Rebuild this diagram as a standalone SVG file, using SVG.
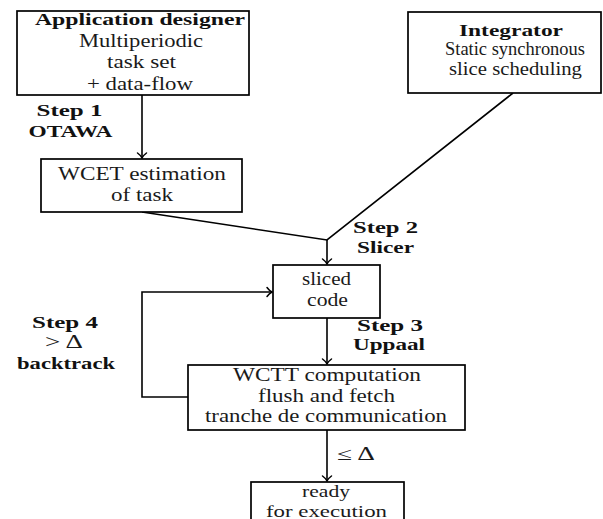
<svg xmlns="http://www.w3.org/2000/svg" width="603" height="519" viewBox="0 0 603 519">
  <style>
    .box { fill: #ffffff; stroke: #000000; stroke-width: 1.7; }
    .edge { fill: none; stroke: #000000; stroke-width: 1.6; }
    text { font-family: 'Liberation Serif', 'DejaVu Serif', 'Times New Roman', serif; font-size: 18px; fill: #1a1a1a; text-anchor: middle; }
    .b { font-weight: bold; font-size: 17.5px; fill: #111111; }
    .s { font-size: 16px; }
  </style>
  <defs>
    <marker id="arrow" markerUnits="userSpaceOnUse" markerWidth="14" markerHeight="14" viewBox="-7 -7 14 14" refX="0" refY="0" orient="auto">
      <path d="M -5 -4.5 C -3.2 -2 -1.2 -0.6 0 0 C -1.2 0.6 -3.2 2 -5 4.5" fill="none" stroke="#000" stroke-width="1.5" stroke-linecap="round"/>
    </marker>
  </defs>

  <rect width="603" height="519" fill="#ffffff"/>

  <!-- connectors -->
  <g id="connectors">
    <line class="edge" x1="142" y1="95" x2="142" y2="158" marker-end="url(#arrow)"/>
    <polyline class="edge" points="142,212 327,240 513,93"/>
    <line class="edge" x1="327" y1="240" x2="327" y2="264" marker-end="url(#arrow)"/>
    <line class="edge" x1="327" y1="318" x2="327" y2="364" marker-end="url(#arrow)"/>
    <line class="edge" x1="327" y1="430" x2="327" y2="481" marker-end="url(#arrow)"/>
    <polyline class="edge" points="188,397 142,397 142,292 272,292" marker-end="url(#arrow)"/>
  </g>

  <!-- edge labels -->
  <g id="labels">
    <text class="b" x="69.5" y="116" textLength="66" lengthAdjust="spacingAndGlyphs">Step 1</text>
    <text class="b" x="70.5" y="137" textLength="84" lengthAdjust="spacingAndGlyphs">OTAWA</text>
    <text class="b" x="385.5" y="233" textLength="65" lengthAdjust="spacingAndGlyphs">Step 2</text>
    <text class="b" x="385.5" y="253" textLength="57" lengthAdjust="spacingAndGlyphs">Slicer</text>
    <text class="b" x="390" y="331" textLength="66" lengthAdjust="spacingAndGlyphs">Step 3</text>
    <text class="b" x="389" y="350" textLength="72" lengthAdjust="spacingAndGlyphs">Uppaal</text>
    <text class="b" x="65" y="328" textLength="66" lengthAdjust="spacingAndGlyphs">Step 4</text>
    <text x="64" y="348" textLength="38" lengthAdjust="spacingAndGlyphs">&gt; Δ</text>
    <text class="b" x="66" y="369" textLength="98" lengthAdjust="spacingAndGlyphs">backtrack</text>
    <text x="356" y="460" textLength="38" lengthAdjust="spacingAndGlyphs">≤ Δ</text>
  </g>

  <g id="app-designer">
    <rect class="box" x="17" y="11" width="232" height="84"/>
    <text class="b" x="140" y="25" textLength="210" lengthAdjust="spacingAndGlyphs">Application designer</text>
    <text x="141" y="47" textLength="124" lengthAdjust="spacingAndGlyphs">Multiperiodic</text>
    <text x="141.5" y="68" textLength="69" lengthAdjust="spacingAndGlyphs">task set</text>
    <text x="140" y="90" textLength="106" lengthAdjust="spacingAndGlyphs">+ data-flow</text>
  </g>

  <g id="integrator">
    <rect class="box" x="408" y="12" width="193" height="81"/>
    <text class="b" x="511" y="36" textLength="104" lengthAdjust="spacingAndGlyphs">Integrator</text>
    <text x="515" y="55" textLength="140" lengthAdjust="spacingAndGlyphs">Static synchronous</text>
    <text x="515.5" y="75" textLength="133" lengthAdjust="spacingAndGlyphs">slice scheduling</text>
  </g>

  <g id="wcet">
    <rect class="box" x="41" y="159" width="201" height="53"/>
    <text x="142" y="180" textLength="168" lengthAdjust="spacingAndGlyphs">WCET estimation</text>
    <text x="142" y="201" textLength="62" lengthAdjust="spacingAndGlyphs">of task</text>
  </g>

  <g id="sliced">
    <rect class="box" x="273" y="265" width="107" height="53"/>
    <text x="326.5" y="285" textLength="49" lengthAdjust="spacingAndGlyphs">sliced</text>
    <text x="327.5" y="306" textLength="41" lengthAdjust="spacingAndGlyphs">code</text>
  </g>

  <g id="wctt">
    <rect class="box" x="188" y="365" width="277" height="65"/>
    <text x="327" y="381" textLength="188" lengthAdjust="spacingAndGlyphs">WCTT computation</text>
    <text x="326.5" y="402" textLength="137" lengthAdjust="spacingAndGlyphs">flush and fetch</text>
    <text x="326" y="422" textLength="242" lengthAdjust="spacingAndGlyphs">tranche de communication</text>
  </g>

  <g id="ready">
    <rect class="box" x="251" y="482" width="153" height="50"/>
    <text class="s" x="326" y="497" textLength="48" lengthAdjust="spacingAndGlyphs">ready</text>
    <text class="s" x="326.5" y="516.5" textLength="121" lengthAdjust="spacingAndGlyphs">for execution</text>
  </g>
</svg>
